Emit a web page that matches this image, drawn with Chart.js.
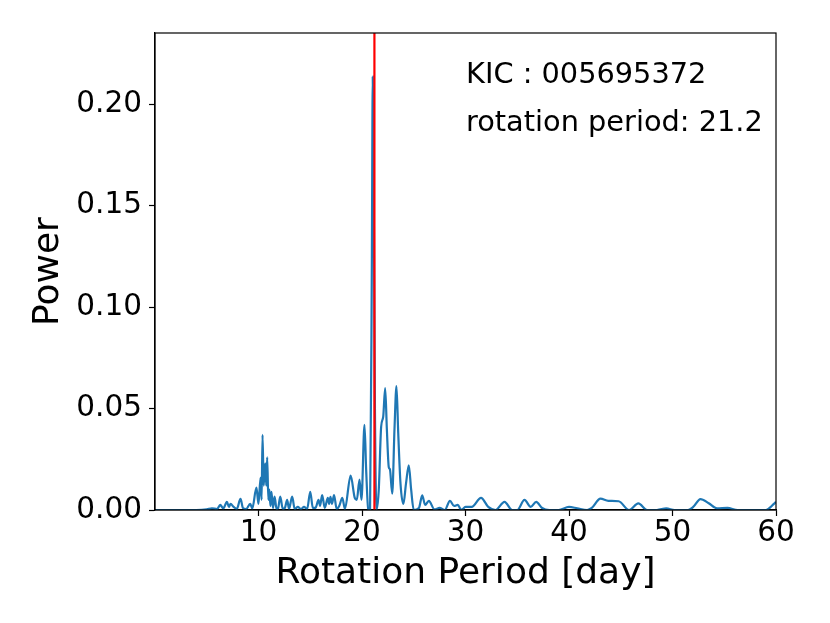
<!DOCTYPE html>
<html>
<head>
<meta charset="utf-8">
<script src="https://cdn.jsdelivr.net/npm/chart.js@4.4.0/dist/chart.umd.min.js"></script>
<style>
  html, body { margin: 0; padding: 0; background: #fff; }
  #wrap { width: 830px; height: 623px; }
</style>
</head>
<body>
<div id="wrap"><canvas id="chart" width="830" height="623"></canvas></div>
<script>
// periodogram
const periods = [0.1, 2.0, 4.0, 5.0, 5.5, 6.0, 6.3, 6.6, 6.95, 7.15, 7.3, 7.6, 7.9, 8.26, 8.5, 8.8, 9.2, 9.4,
  9.8, 10.0, 10.2, 10.3, 10.39, 10.5, 10.65, 10.75, 10.84, 10.95, 11.05, 11.15, 11.25, 11.4, 11.55, 11.75,
  11.9, 12.1, 12.35, 12.55, 12.77, 12.95, 13.25, 13.5, 13.8, 14.1, 14.4, 14.7, 15.0, 15.25, 15.5, 15.8,
  15.95, 16.15, 16.4, 16.7, 16.82, 16.95, 17.1, 17.3, 17.55, 17.8, 18.1, 18.35, 18.9, 19.3, 19.5, 19.76,
  19.95, 20.24, 20.4, 20.6, 20.78, 20.95, 21.04, 21.12, 21.25, 21.4, 21.62, 21.85, 22.05, 22.24, 22.4,
  22.59, 22.7, 22.92, 23.14, 23.33, 23.5, 23.72, 24.0, 24.25, 24.52, 24.75, 25.0, 25.5, 25.82, 26.1, 26.46,
  27.0, 27.5, 28.0, 28.5, 28.9, 29.25, 29.6, 30.0, 30.6, 31.5, 32.2, 32.9, 33.77, 34.5, 35.0, 35.7, 36.3,
  36.83, 37.4, 38.1, 39.0, 40.0, 40.8, 41.75, 42.2, 43.04, 43.8, 44.8, 45.8, 46.7, 47.55, 48.5, 49.4, 50.2,
  51.5, 52.0, 52.7, 53.5, 54.3, 55.3, 56.3, 58.0, 59.0, 59.8, 60.0];
const powers = [0, 0, 0, 0.0003, 0.0008, 0.0005, 0.0025, 0.0008, 0.004, 0.0015, 0.003, 0.0015, 0.0005, 0.0055, 0.001, 0.0005, 0.003, 0.0008,
  0.011, 0.003, 0.016, 0.005, 0.037, 0.012, 0.023, 0.012, 0.026, 0.005, 0.01, 0.002, 0.009, 0.001, 0.0066, 0.0005,
  0.001, 0.0066, 0.0005, 0.001, 0.005, 0.0005, 0.0066, 0.0005, 0.0015, 0.0005, 0.0015, 0.0005, 0.009, 0.001, 0.001, 0.005,
  0.002, 0.0074, 0.001, 0.006, 0.003, 0.0065, 0.003, 0.0074, 0.0005, 0.002, 0.006, 0.0005, 0.017, 0.006, 0.005, 0.015,
  0.005, 0.042, 0.02, 0.0005, 0, 0.12, 0.2135, 0.17, 0.05, 0, 0.0099, 0.041, 0.046, 0.060, 0.04,
  0.021, 0.02, 0.008, 0.04, 0.061, 0.038, 0.013, 0.003, 0.013, 0.022, 0.01, 0, 0.001, 0.0072, 0.0025, 0.0045,
  0.0003, 0.001, 0, 0.0045, 0.002, 0.0025, 0, 0.0015, 0.0015, 0.006, 0.0015, 0, 0.004, 0, 0, 0.005, 0.0015,
  0.004, 0.001, 0, 0, 0.0015, 0.0008, 0, 0.001, 0.0056, 0.0045, 0.0043, 0, 0.0033, 0, 0, 0.0008, 0,
  0, 0.0015, 0.0054, 0.0033, 0.0008, 0.001, 0, 0, 0, 0.003, 0.004];
const kicId = '005695372';
const rotPeriod = 21.2;
const xTicks = [10, 20, 30, 40, 50, 60];
const yTicks = [0, 0.05, 0.10, 0.15, 0.20];
const yMax = 0.235;

const font = "'DejaVu Sans', sans-serif";

// texte en haut a droite + cadre complet
const annotations = {
  id: 'annotations',
  afterDraw(chart) {
    const { ctx, chartArea: a } = chart;
    ctx.save();
    ctx.strokeStyle = '#000';
    ctx.lineWidth = 1.2;
    ctx.strokeRect(a.left, a.top, a.right - a.left, a.bottom - a.top);
    ctx.fillStyle = '#000';
    ctx.font = "28.8px " + font;
    ctx.textBaseline = 'alphabetic';
    ctx.fillText('KIC : ' + kicId, a.left + 311, a.top + 50);
    ctx.fillText('rotation period: ' + rotPeriod, a.left + 311, a.top + 98);
    ctx.restore();
  }
};

const ctx = document.getElementById('chart').getContext('2d');
new Chart(ctx, {
  type: 'line',
  data: {
    datasets: [{
      label: 'rotation',
      data: [{ x: rotPeriod, y: 0 }, { x: rotPeriod, y: yMax }],
      borderColor: '#ff0000',
      borderWidth: 2.2,
      pointRadius: 0,
      order: 0
    }, {
      label: 'power',
      data: periods.map((p, i) => ({ x: p, y: powers[i] })),
      borderColor: '#1f77b4',
      borderWidth: 2.2,
      pointRadius: 0,
      cubicInterpolationMode: 'monotone',
      order: 1
    }]
  },
  options: {
    responsive: false,
    animation: false,
    layout: { padding: { top: 33, right: 54, left: 0, bottom: 0 } },
    plugins: { legend: { display: false }, tooltip: { enabled: false } },
    scales: {
      x: {
        type: 'linear',
        min: 0,
        max: 60,
        afterBuildTicks: s => { s.ticks = xTicks.map(v => ({ value: v })); },
        afterFit: s => { s.height = 113; },
        grid: { drawOnChartArea: false, tickLength: 6, color: '#000', tickWidth: 1.2 },
        border: { color: '#000', width: 1.2 },
        ticks: { color: '#000', font: { family: font, size: 29.5 }, padding: 0, maxRotation: 0 },
        title: { display: true, text: 'Rotation Period [day]', color: '#000',
          font: { family: font, size: 36 }, padding: { top: 0, bottom: 28 } }
      },
      y: {
        type: 'linear',
        min: 0,
        max: yMax,
        afterBuildTicks: s => { s.ticks = yTicks.map(v => ({ value: v })); },
        afterFit: s => { s.width = 155; },
        grid: { drawOnChartArea: false, tickLength: 6, color: '#000', tickWidth: 1.2 },
        border: { color: '#000', width: 1.2 },
        ticks: { color: '#000', font: { family: font, size: 29.5 }, padding: 7,
          callback: v => v.toFixed(2) },
        title: { display: true, text: 'Power', color: '#000',
          font: { family: font, size: 36 }, padding: { top: 27, bottom: 0 } }
      }
    }
  },
  plugins: [annotations]
});
</script>
</body>
</html>
